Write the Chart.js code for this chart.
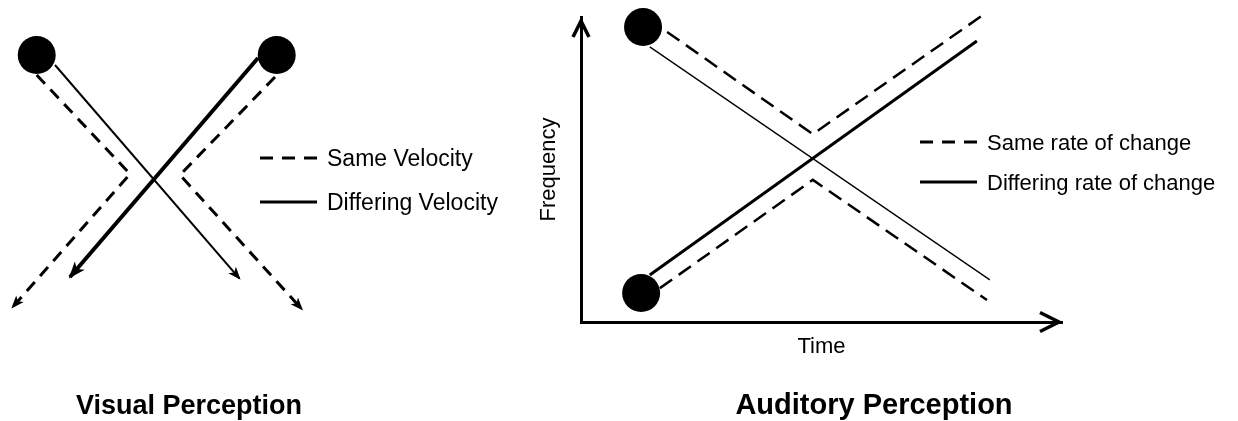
<!DOCTYPE html>
<html>
<head>
<meta charset="utf-8">
<script src="https://cdn.jsdelivr.net/npm/chart.js@4"></script>
<style>
  body { margin: 0; background: #fff; }
  #wrap { position: relative; width: 1238px; height: 421px; background: #fff; }
  canvas { position: absolute; top: 0; }
  #visual { left: 0; }
  #auditory { left: 520px; }
</style>
</head>
<body>
<div id="wrap">
  <canvas id="visual" width="520" height="421"></canvas>
  <canvas id="auditory" width="718" height="421"></canvas>
</div>
<script>
// visual panel: position units, x to the right, y upwards
var visualBalls = [[3.67, 28.5], [27.67, 28.5]];
var visualThin = [[5.5, 27.5], [23.93, 6.17]];
var visualThick = [[25.8, 28.2], [7.0, 6.3]];
var visualDashLeft = [[3.67, 26.5], [13.0, 16.6], [1.27, 3.3]];
var visualDashRight = [[27.5, 26.3], [18.0, 16.5], [30.17, 3.1]];
var visualLabels = ['Same Velocity', 'Differing Velocity'];

// auditory panel: time (x) and frequency (y), both 0..10
var toneBalls = [[1.29, 9.67], [1.25, 0.95]];
var toneFalling = [[1.43, 9.02], [8.50, 1.38]];
var toneRising = [[1.43, 1.54], [8.23, 9.21]];
var toneDashUpper = [[1.79, 9.51], [4.82, 6.16], [8.36, 10.07]];
var toneDashLower = [[1.64, 1.11], [4.82, 4.66], [8.44, 0.72]];
var toneLabels = ['Same rate of change', 'Differing rate of change'];

var FONT = '"Liberation Sans", Arial, sans-serif';
Chart.defaults.font.family = FONT;
Chart.defaults.color = '#000';

function pts(a) {
  return a.map(function (p) { return { x: p[0], y: p[1] }; });
}

function lineSet(data, width, dash, arrow) {
  return {
    data: pts(data), showLine: true, borderColor: '#000', borderWidth: width,
    borderDash: dash || [], borderJoinStyle: 'miter', pointRadius: 0, pointHoverRadius: 0,
    fill: false, tension: 0, clip: false, order: 1, arrowHead: arrow
  };
}

function ballSet(data, r) {
  return {
    data: pts(data), pointRadius: r, pointHoverRadius: r, backgroundColor: '#000',
    borderWidth: 0, clip: false, order: 0
  };
}

// filled arrow heads at the end of a path
var arrowHeads = {
  id: 'arrowHeads',
  afterDatasetsDraw: function (chart) {
    var ctx = chart.ctx;
    chart.data.datasets.forEach(function (ds, i) {
      if (!ds.arrowHead) return;
      var el = chart.getDatasetMeta(i).data;
      var a = el[el.length - 2], b = el[el.length - 1];
      var ang = Math.atan2(b.y - a.y, b.x - a.x);
      var L = ds.arrowHead[0], W = ds.arrowHead[1];
      ctx.save();
      ctx.translate(b.x, b.y);
      ctx.rotate(ang);
      ctx.beginPath();
      ctx.moveTo(2, 0);
      ctx.lineTo(-L, -W);
      ctx.lineTo(-L * 0.7, 0);
      ctx.lineTo(-L, W);
      ctx.closePath();
      ctx.fillStyle = '#000';
      ctx.fill();
      ctx.restore();
    });
  }
};

// open arrows at the ends of the two axes
var axisArrows = {
  id: 'axisArrows',
  afterDraw: function (chart) {
    var a = chart.chartArea, ctx = chart.ctx;
    ctx.save();
    ctx.strokeStyle = '#000';
    ctx.lineWidth = 3.5;
    ctx.lineJoin = 'miter';
    ctx.beginPath();
    ctx.moveTo(a.left - 8, a.top + 20);
    ctx.lineTo(a.left, a.top + 4);
    ctx.lineTo(a.left + 8, a.top + 20);
    ctx.moveTo(a.right - 22, a.bottom - 9.5);
    ctx.lineTo(a.right - 3, a.bottom);
    ctx.lineTo(a.right - 22, a.bottom + 9.5);
    ctx.stroke();
    ctx.restore();
  }
};

function makeLegend(labels, left, top, gap, size) {
  return {
    id: 'sideLegend',
    afterDraw: function (chart) {
      var ctx = chart.ctx;
      ctx.save();
      ctx.font = size + 'px ' + FONT;
      ctx.fillStyle = '#000';
      ctx.strokeStyle = '#000';
      ctx.lineWidth = 3;
      labels.forEach(function (t, i) {
        var y = top + i * gap;
        ctx.setLineDash(i === 0 ? [13, 9] : []);
        ctx.beginPath();
        ctx.moveTo(left, y);
        ctx.lineTo(left + 57, y);
        ctx.stroke();
        ctx.setLineDash([]);
        ctx.fillText(t, left + 67, y + size * 0.36);
      });
      ctx.restore();
    }
  };
}

function makeCaption(text, cx, baseline, size) {
  return {
    id: 'caption',
    afterDraw: function (chart) {
      var ctx = chart.ctx;
      ctx.save();
      ctx.font = 'bold ' + size + 'px ' + FONT;
      ctx.fillStyle = '#000';
      ctx.textAlign = 'center';
      ctx.fillText(text, cx, baseline);
      ctx.restore();
    }
  };
}

new Chart(document.getElementById('visual'), {
  type: 'scatter',
  data: {
    datasets: [
      ballSet(visualBalls, 19),
      lineSet(visualThin, 2, null, [11, 5]),
      lineSet(visualThick, 4, null, [15, 6.5]),
      lineSet(visualDashLeft, 3, [12, 8], [11, 5]),
      lineSet(visualDashRight, 3, [12, 8], [11, 5])
    ]
  },
  options: {
    responsive: false, animation: false, devicePixelRatio: 1, events: [],
    layout: { autoPadding: false, padding: { left: 0, top: 0, right: 200, bottom: 81 } },
    scales: {
      x: { display: false, min: 0, max: 32 },
      y: { display: false, min: 0, max: 34 }
    },
    plugins: { legend: { display: false }, tooltip: { enabled: false } }
  },
  plugins: [arrowHeads, makeLegend(visualLabels, 260, 158, 44, 23), makeCaption('Visual Perception', 189, 414, 27)]
});

new Chart(document.getElementById('auditory'), {
  type: 'scatter',
  data: {
    datasets: [
      ballSet(toneBalls, 19),
      lineSet(toneFalling, 1.3),
      lineSet(toneRising, 3),
      lineSet(toneDashUpper, 2.5, [15, 8]),
      lineSet(toneDashLower, 2.5, [15, 8])
    ]
  },
  options: {
    responsive: false, animation: false, devicePixelRatio: 1, events: [],
    layout: { autoPadding: false, padding: { left: 0, top: 17, right: 176, bottom: 59 } },
    scales: {
      x: {
        min: 0, max: 10,
        grid: { display: false },
        ticks: { display: false },
        border: { display: true, width: 3, color: '#000' },
        title: { display: true, text: 'Time', color: '#000', font: { size: 22 }, padding: { top: 0, bottom: 2 } },
        afterFit: function (s) { s.height = 40; }
      },
      y: {
        min: 0, max: 10,
        grid: { display: false },
        ticks: { display: false },
        border: { display: true, width: 3, color: '#000' },
        title: { display: true, text: 'Frequency', color: '#000', font: { size: 22 }, padding: { top: 16, bottom: 0 } },
        afterFit: function (s) { s.width = 61; }
      }
    },
    plugins: { legend: { display: false }, tooltip: { enabled: false } }
  },
  plugins: [axisArrows, makeLegend(toneLabels, 400, 142, 40, 22), makeCaption('Auditory Perception', 354, 414, 29)]
});
</script>
</body>
</html>
